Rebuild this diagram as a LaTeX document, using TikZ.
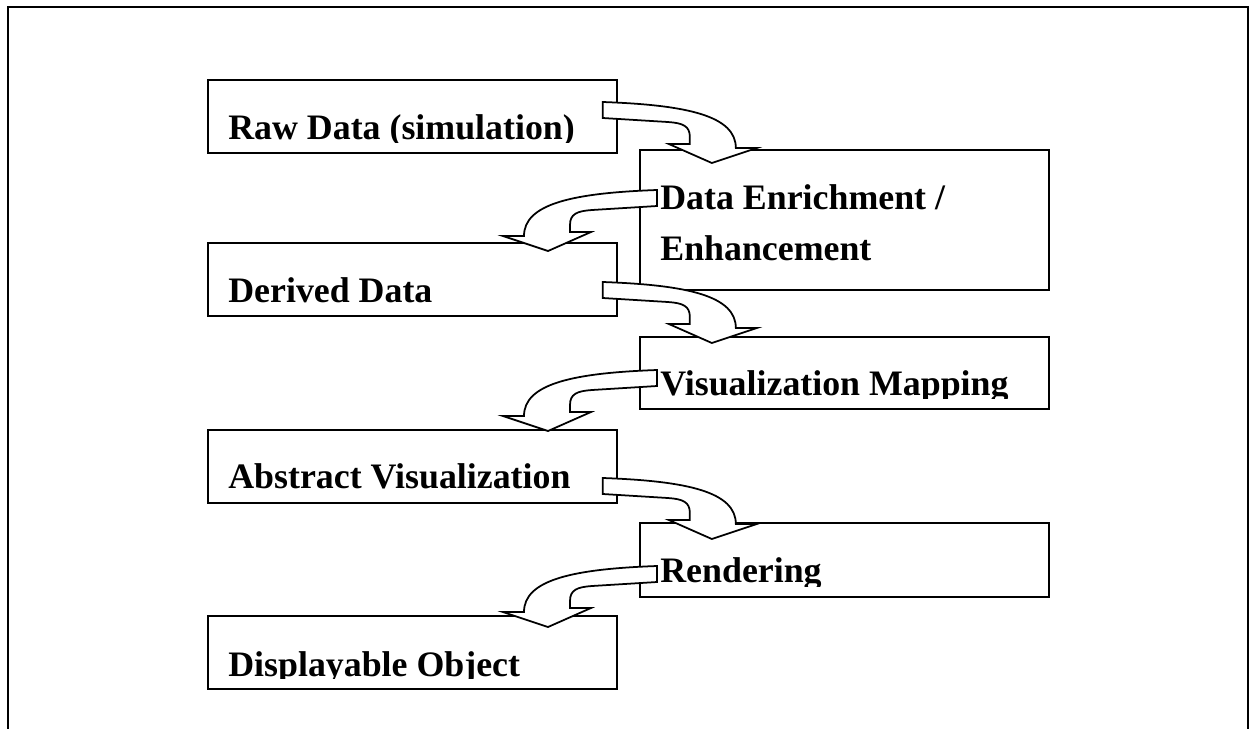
\documentclass[tikz,border=0pt]{standalone}
\usepackage{fontspec}
\setmainfont{Liberation Serif}
\usetikzlibrary{positioning}

\tikzset{
  stage/.style={draw,line width=1.1pt,minimum width=8.18cm,minimum height=1.46cm,anchor=north west,inner sep=0pt},
  stagetext/.style={anchor=base west,inner sep=0pt,align=left},
  flowarrow/.style={draw,fill=white,line width=1pt,line join=miter},
  pics/bentarrow/.style={code={
    \draw[flowarrow] (0,0) .. controls (85,3) and (133,14) .. (133,46) -- (154,46) -- (109,61)
      -- (66,42) -- (87,42) -- (87,35) .. controls (87,24) and (80,21) .. (65,20) -- (0,16) -- cycle;
  }}
}

\begin{document}
\begin{tikzpicture}
  [x=0.02cm,y=-0.02cm,every node/.style={font=\bfseries\fontsize{20.4pt}{28.9pt}\selectfont}]
  \useasboundingbox (0,0) rectangle (1252,728);
  \draw[line width=1.1pt] (8,740) -- (8,7) -- (1248,7) -- (1248,740);

  \node[stage] (raw) at (207,79) {};
  \node[stage,minimum height=2.8cm] (enrich) at (639,149) {};
  \node[stage] (derived) at (207,242) {};
  \node[stage,minimum height=1.44cm] (vismap) at (639,336) {};
  \node[stage] (abstract) at (207,429) {};
  \node[stage,minimum height=1.48cm] (render) at (639,522) {};
  \node[stage] (display) at (207,615) {};

  % texts sit low in their boxes and lose their descenders
  \foreach \s/\dy/\txt in {raw/60/{Raw Data (simulation)},enrich/111/{Data Enrichment /\\Enhancement},
      derived/60/{Derived Data},vismap/59/{Visualization Mapping},abstract/59/{Abstract Visualization},
      render/60/{Rendering},display/61/{Displayable Object}}
  {
    \begin{scope}
      \clip (\s.north west) rectangle ([shift={(0,-11)}]\s.south east);
      \node[stagetext] (\s-text) at ([shift={(21,\dy)}]\s.north west) {\txt};
    \end{scope}
  }

  \foreach \s/\dy in {raw/23,derived/40,abstract/49}
    \pic at ([shift={(-15,\dy)}]\s.north east) {bentarrow};
  \foreach \s/\dy in {enrich/41,vismap/34,render/44}
    \pic[xscale=-1] at ([shift={(18,\dy)}]\s.north west) {bentarrow};

\end{tikzpicture}
\end{document}
